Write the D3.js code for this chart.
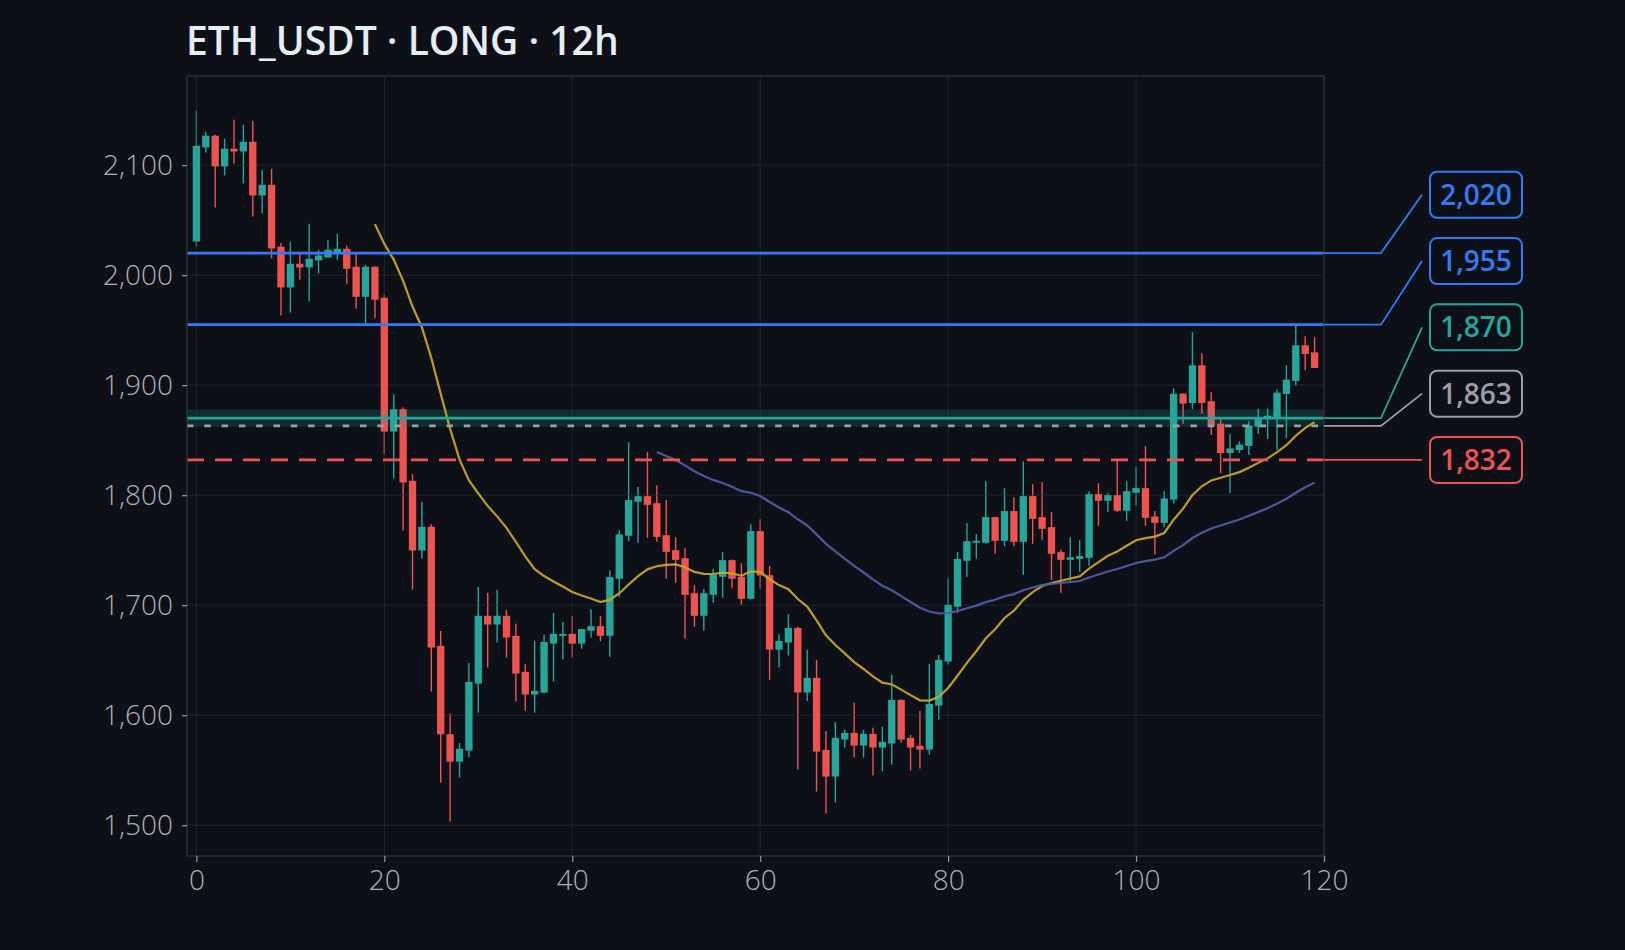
<!DOCTYPE html>
<html>
<head>
<meta charset="utf-8">
<script src="https://cdn.jsdelivr.net/npm/d3@7"></script>
<style>
  html, body { margin: 0; padding: 0; background: #0d1117; }
  svg { display: block; }
</style>
</head>
<body>
<div id="chart"></div>
<script>
// candles, index 0..119
const opens = [
  2030.6, 2116.1, 2126.7, 2098.8, 2114.9, 2112.4, 2121.2, 2072.4, 2082.1, 2025.8,
  1988.8, 2010.3, 2007.0, 2013.3, 2016.1, 2020.9, 2023.9, 2007.6, 1980.3, 2007.6,
  1979.4, 1857.8, 1878.1, 1813.0, 1749.7, 1771.2, 1663.0, 1582.7, 1557.8, 1567.8,
  1628.8, 1690.3, 1682.4, 1690.3, 1672.1, 1639.4, 1618.8, 1620.6, 1665.1, 1672.1,
  1673.9, 1665.1, 1676.7, 1680.9, 1672.1, 1724.0, 1763.1, 1794.0, 1799.1, 1792.7,
  1763.6, 1750.0, 1742.7, 1710.9, 1690.3, 1709.4, 1725.8, 1740.9, 1725.8, 1705.8,
  1767.3, 1727.2, 1659.6, 1666.0, 1679.3, 1620.6, 1633.9, 1568.4, 1544.2, 1577.9,
  1583.9, 1572.4, 1583.0, 1570.6, 1574.2, 1613.9, 1579.4, 1572.1, 1568.7, 1608.7,
  1648.8, 1698.6, 1740.3, 1756.7, 1756.7, 1780.0, 1758.5, 1785.5, 1757.6, 1799.1,
  1780.0, 1770.9, 1748.2, 1741.2, 1742.1, 1743.0, 1800.9, 1794.9, 1800.0, 1785.8,
  1802.1, 1806.4, 1780.6, 1774.8, 1796.0, 1892.2, 1883.8, 1918.0, 1885.3, 1865.0,
  1838.3, 1841.0, 1844.7, 1862.2, 1870.4, 1870.4, 1892.0, 1903.8, 1936.2, 1929.8
];
const highs = [
  2149.4, 2130.3, 2127.5, 2124.0, 2141.2, 2136.7, 2140.3, 2095.8, 2096.7, 2029.1,
  2030.3, 2021.2, 2046.7, 2023.0, 2032.1, 2037.6, 2026.7, 2020.9, 2009.4, 2008.0,
  1982.1, 1891.8, 1879.7, 1819.1, 1793.9, 1773.6, 1676.6, 1601.5, 1574.8, 1647.5,
  1716.6, 1711.2, 1713.9, 1695.7, 1683.0, 1646.6, 1667.6, 1673.0, 1693.0, 1684.8,
  1690.3, 1678.6, 1696.4, 1690.0, 1731.8, 1768.2, 1848.2, 1807.3, 1839.1, 1809.1,
  1795.5, 1761.8, 1751.8, 1718.2, 1714.6, 1733.0, 1748.2, 1741.5, 1738.2, 1773.6,
  1778.2, 1735.7, 1673.6, 1691.8, 1680.3, 1659.4, 1650.3, 1585.7, 1593.9, 1586.9,
  1611.2, 1586.9, 1588.5, 1589.4, 1636.9, 1614.5, 1582.1, 1603.9, 1646.6, 1654.8,
  1724.2, 1748.4, 1774.6, 1764.6, 1812.7, 1780.5, 1806.4, 1798.2, 1830.9, 1810.0,
  1811.8, 1784.6, 1750.3, 1761.8, 1759.1, 1803.6, 1810.9, 1801.8, 1832.7, 1812.7,
  1825.5, 1844.6, 1785.5, 1803.6, 1897.1, 1892.5, 1948.0, 1928.9, 1893.5, 1868.9,
  1855.9, 1848.9, 1867.1, 1878.6, 1878.6, 1895.9, 1918.0, 1954.1, 1944.4, 1943.5
];
const lows = [
  2026.1, 2111.5, 2061.5, 2090.6, 2101.5, 2083.3, 2053.3, 2056.1, 2015.2, 1963.3,
  1966.1, 1995.8, 1976.0, 2001.5, 2015.8, 2014.0, 1992.1, 1969.4, 1954.8, 1960.9,
  1837.2, 1815.1, 1767.8, 1714.2, 1742.4, 1621.5, 1538.8, 1503.3, 1543.3, 1562.1,
  1602.1, 1643.3, 1666.1, 1652.4, 1612.4, 1604.2, 1602.4, 1620.0, 1630.6, 1650.6,
  1652.4, 1660.5, 1670.3, 1667.3, 1653.1, 1707.6, 1758.2, 1756.7, 1761.2, 1757.6,
  1724.0, 1720.3, 1669.4, 1680.3, 1676.7, 1702.1, 1706.7, 1715.8, 1700.3, 1705.2,
  1714.9, 1632.1, 1643.3, 1654.2, 1550.6, 1613.0, 1530.6, 1510.6, 1520.6, 1570.6,
  1561.5, 1561.5, 1545.1, 1548.8, 1555.1, 1575.2, 1549.7, 1551.5, 1564.2, 1596.0,
  1646.0, 1693.0, 1725.8, 1742.1, 1756.0, 1746.7, 1753.6, 1753.6, 1727.6, 1755.8,
  1759.4, 1723.0, 1711.2, 1720.3, 1730.3, 1735.8, 1772.1, 1784.8, 1784.8, 1776.7,
  1790.3, 1772.0, 1746.1, 1770.9, 1792.5, 1865.0, 1878.3, 1873.8, 1854.7, 1820.1,
  1801.9, 1838.3, 1836.5, 1855.6, 1851.0, 1841.3, 1851.9, 1899.5, 1913.5, 1915.6
];
const closes = [
  2117.6, 2126.7, 2098.8, 2114.9, 2112.4, 2121.2, 2072.4, 2082.1, 2024.2, 1988.8,
  2010.3, 2007.0, 2014.9, 2017.9, 2023.0, 2023.9, 2005.8, 1980.3, 2007.6, 1977.6,
  1857.8, 1878.1, 1811.5, 1749.7, 1771.2, 1661.5, 1582.7, 1557.8, 1569.4, 1630.3,
  1690.3, 1682.4, 1690.3, 1670.6, 1637.8, 1618.8, 1622.1, 1666.6, 1673.9, 1673.9,
  1665.1, 1678.2, 1680.9, 1672.1, 1725.5, 1764.3, 1795.5, 1799.1, 1791.2, 1762.1,
  1748.5, 1741.2, 1709.4, 1690.3, 1710.9, 1727.6, 1740.9, 1724.0, 1705.8, 1767.3,
  1727.0, 1659.6, 1667.5, 1679.3, 1620.6, 1633.9, 1566.9, 1544.2, 1579.4, 1583.9,
  1572.4, 1583.0, 1570.6, 1575.7, 1613.9, 1577.9, 1570.6, 1568.7, 1610.3, 1650.3,
  1700.3, 1742.0, 1758.2, 1758.5, 1780.0, 1758.5, 1785.5, 1757.6, 1799.1, 1778.5,
  1769.4, 1746.7, 1741.2, 1743.6, 1744.6, 1800.9, 1794.9, 1800.0, 1785.8, 1803.6,
  1806.4, 1779.4, 1774.8, 1797.0, 1892.2, 1883.2, 1918.0, 1883.8, 1863.8, 1838.3,
  1842.5, 1845.9, 1863.2, 1871.0, 1872.2, 1893.2, 1905.0, 1936.2, 1928.3, 1915.6
];

// price levels drawn across the chart
const levelPrices = [2020, 1955, 1870, 1863, 1832];
const levelColors = ["#2f7cf6", "#2f7cf6", "#26a69a", "#9aa0a8", "#ef5350"];
const levelDash   = [null, null, null, "6.5,10.8", "17,11"];
const entryZone = [1862, 1878];

const maPeriods = [20, 50];
const maColors = ["#c9a227", "#4f5ca3"];

const xTicks = [0, 20, 40, 60, 80, 100, 120];
const yTicks = [1500, 1600, 1700, 1800, 1900, 2000, 2100];
const title = "ETH_USDT \u00b7 LONG \u00b7 12h";

const W = 1625, H = 950;
const plot = { left: 187, right: 1324, top: 76, bottom: 856 };
const UP = "#26a69a", DOWN = "#ef5350";
const FONT = "'Open Sans', 'Noto Sans', sans-serif";

const candles = opens.map((o, i) => ({ i, o, h: highs[i], l: lows[i], c: closes[i] }));

const x = d3.scaleLinear().domain([-1, 120]).range([plot.left, plot.right]);
const y = d3.scaleLinear().domain([1472, 2181]).range([plot.bottom, plot.top]);

const svg = d3.select("#chart").append("svg")
  .attr("width", W).attr("height", H);

svg.append("rect").attr("width", W).attr("height", H).attr("fill", "#0d1117");

svg.append("defs").append("clipPath").attr("id", "clip")
  .append("rect")
  .attr("x", plot.left).attr("y", plot.top)
  .attr("width", plot.right - plot.left).attr("height", plot.bottom - plot.top);

const g = svg.append("g").attr("clip-path", "url(#clip)");

// wicks first, grid sits over them, bodies on top
g.append("g").selectAll("line").data(candles).join("line")
  .attr("x1", d => x(d.i)).attr("x2", d => x(d.i))
  .attr("y1", d => y(d.h)).attr("y2", d => y(d.l))
  .attr("stroke", d => d.c >= d.o ? UP : DOWN)
  .attr("stroke-width", 1.4);

const grid = g.append("g").attr("stroke", "#2a303a").attr("stroke-opacity", 0.6).attr("stroke-width", 1);
grid.selectAll(".gx").data(xTicks).join("line").attr("class", "gx")
  .attr("x1", d => x(d)).attr("x2", d => x(d))
  .attr("y1", plot.top).attr("y2", plot.bottom);
grid.selectAll(".gy").data(yTicks).join("line").attr("class", "gy")
  .attr("x1", plot.left).attr("x2", plot.right)
  .attr("y1", d => y(d)).attr("y2", d => y(d));

const bw = (x(1) - x(0)) * 0.78;
g.append("g").selectAll("rect").data(candles).join("rect")
  .attr("x", d => x(d.i) - bw / 2)
  .attr("width", bw)
  .attr("y", d => y(Math.max(d.o, d.c)))
  .attr("height", d => Math.max(1.5, Math.abs(y(d.o) - y(d.c))))
  .attr("fill", d => d.c >= d.o ? UP : DOWN);

// entry zone band
g.append("rect")
  .attr("x", plot.left).attr("width", plot.right - plot.left)
  .attr("y", y(entryZone[1])).attr("height", y(entryZone[0]) - y(entryZone[1]))
  .attr("fill", UP).attr("fill-opacity", 0.17);

// EMAs of close, seeded with the simple mean of the first window
maPeriods.forEach((p, k) => {
  const a = 2 / (p + 1);
  let e = d3.mean(closes.slice(0, p));
  const pts = [[p - 1, e]];
  for (let i = p; i < closes.length; i++) {
    e = a * closes[i] + (1 - a) * e;
    pts.push([i, e]);
  }
  g.append("path")
    .datum(pts)
    .attr("fill", "none")
    .attr("stroke", maColors[k])
    .attr("stroke-width", 2.2)
    .attr("stroke-opacity", 0.95)
    .attr("d", d3.line().x(d => x(d[0])).y(d => y(d[1])));
});

// level lines
levelPrices.forEach((p, k) => {
  g.append("line")
    .attr("x1", plot.left).attr("x2", plot.right)
    .attr("y1", y(p)).attr("y2", y(p))
    .attr("stroke", levelColors[k])
    .attr("stroke-width", k === 3 ? 2.6 : 2.8)
    .attr("stroke-dasharray", levelDash[k]);
});

// plot frame
svg.append("rect")
  .attr("x", plot.left).attr("y", plot.top)
  .attr("width", plot.right - plot.left).attr("height", plot.bottom - plot.top)
  .attr("fill", "none").attr("stroke", "#30363d").attr("stroke-width", 1.2);

// axes
const fmt = d3.format(",");
const yAxis = svg.append("g")
  .attr("transform", `translate(${plot.left},0)`)
  .call(d3.axisLeft(y).tickValues(yTicks).tickFormat(fmt).tickSize(5).tickPadding(9));
const xAxis = svg.append("g")
  .attr("transform", `translate(0,${plot.bottom})`)
  .call(d3.axisBottom(x).tickValues(xTicks).tickSize(6).tickPadding(8));
[yAxis, xAxis].forEach(a => {
  a.select(".domain").remove();
  a.selectAll(".tick line").attr("stroke", "#8b929b").attr("stroke-width", 1.3);
  a.selectAll(".tick text")
    .attr("fill", "#aab1ba")
    .attr("font-family", FONT)
    .attr("font-weight", 300)
    .attr("font-size", 28);
});

// right side labels, pushed apart so they don't overlap
const order = levelPrices.map((p, k) => k).sort((a, b) => levelPrices[a] - levelPrices[b]);
const labelY = [];
let prev = null;
order.forEach(k => {
  let ly = y(levelPrices[k]);
  if (prev !== null) ly = Math.min(ly, prev - 66.3);
  labelY[k] = ly;
  prev = ly;
});

const boxX = 1430, boxW = 92, boxH = 46;
levelPrices.forEach((p, k) => {
  const ly = labelY[k];
  svg.append("path")
    .attr("d", `M${plot.right},${y(p)} L${1381},${y(p)} L${1422},${ly}`)
    .attr("fill", "none")
    .attr("stroke", levelColors[k])
    .attr("stroke-width", 1.8);
  svg.append("rect")
    .attr("x", boxX).attr("y", ly - boxH / 2)
    .attr("width", boxW).attr("height", boxH)
    .attr("rx", 7)
    .attr("fill", "#0d1117")
    .attr("stroke", levelColors[k])
    .attr("stroke-width", 2);
  svg.append("text")
    .attr("x", boxX + boxW / 2).attr("y", ly)
    .attr("dy", "0.36em")
    .attr("text-anchor", "middle")
    .attr("fill", levelColors[k])
    .attr("font-family", FONT)
    .attr("font-weight", 600)
    .attr("font-size", 28)
    .text(fmt(p));
});

svg.append("text")
  .attr("x", 186).attr("y", 55)
  .attr("fill", "#e6edf3")
  .attr("font-family", FONT)
  .attr("font-weight", 600)
  .attr("font-size", 39)
  .text(title);
</script>
</body>
</html>
